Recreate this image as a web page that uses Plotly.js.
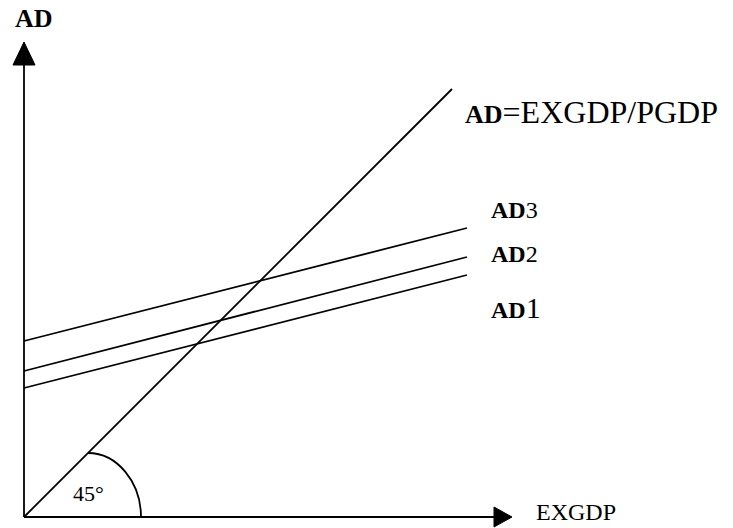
<!DOCTYPE html>
<html>
<head>
<meta charset="utf-8">
<script src="https://cdn.plot.ly/plotly-3.0.1.min.js"></script>
<style>
  html, body { margin: 0; padding: 0; background: #fff; }
  #chart { width: 733px; height: 528px; }
</style>
</head>
<body>
<div id="chart"></div>
<script>
/* -------------------- DATA -------------------- */

// x = EXGDP, y = AD (arbitrary units, origin at the axes corner)
const lineX = [0, 443];
const ad1Y = [129, 242];
const ad2Y = [146, 260];
const ad3Y = [176, 289];

const diagX = [0, 428];
const diagY = [0, 428];

const axisXEnd = 470;   // x axis line end (arrow base)
const axisXTip = 488;   // x axis arrow tip
const axisYEnd = 452;   // y axis line end (arrow base)
const axisYTip = 475;   // y axis arrow tip

const lineLabels = ['1', '2', '3'];
const lineLabelY = [210, 263, 307];

/* -------------------- PLOT -------------------- */

const serif = 'Liberation Serif, Times New Roman, serif';
const ink = '#000';

function seg(x, y) {
  return { x, y, mode: 'lines', line: { color: ink, width: 1.8 }, hoverinfo: 'skip', showlegend: false };
}

const traces = [
  seg([0, axisXEnd], [0, 0]),
  seg([0, 0], [0, axisYEnd]),
  seg(diagX, diagY),
  seg(lineX, ad1Y),
  seg(lineX, ad2Y),
  seg(lineX, ad3Y)
];

// arrow heads and the 45 degree arc
const shapes = [
  {
    type: 'path', xref: 'x', yref: 'y',
    path: `M -11,${axisYEnd} L 11,${axisYEnd} L 0,${axisYTip} Z`,
    fillcolor: ink, line: { color: ink, width: 1 }
  },
  {
    type: 'path', xref: 'x', yref: 'y',
    path: `M ${axisXEnd},10 L ${axisXTip},0 L ${axisXEnd},-10 Z`,
    fillcolor: ink, line: { color: ink, width: 1 }
  },
  {
    type: 'path', xref: 'x', yref: 'y',
    path: 'M 64,64 C 93,64 117,35 117,0',
    line: { color: ink, width: 1.8 }
  }
];

function note(x, y, text, size, anchor) {
  return {
    x, y, xref: 'x', yref: 'y', text, showarrow: false,
    xanchor: anchor || 'left', yanchor: 'middle',
    font: { family: serif, size, color: ink }
  };
}

const annotations = [
  note(10, 499, '<b>AD</b>', 26, 'center'),
  note(439, 405, '<b><span style="font-size:26px">AD</span></b>=EXGDP/PGDP', 32),
  note(510, 5, 'EXGDP', 24),
  note(64, 24, '45°', 22, 'center')
];

lineLabels.forEach((d, i) => {
  const sz = d === '1' ? 30 : 24;
  annotations.push(note(465, lineLabelY[i], `<b>AD</b><span style="font-size:${sz}px">${d}</span>`, 24));
});

const layout = {
  width: 733,
  height: 528,
  margin: { l: 0, r: 0, t: 0, b: 0 },
  paper_bgcolor: '#fff',
  plot_bgcolor: '#fff',
  xaxis: { range: [-24, 709], visible: false, fixedrange: true },
  yaxis: { range: [-11, 517], visible: false, fixedrange: true },
  shapes,
  annotations,
  showlegend: false
};

Plotly.newPlot('chart', traces, layout, { displayModeBar: false, staticPlot: true });
</script>
</body>
</html>
